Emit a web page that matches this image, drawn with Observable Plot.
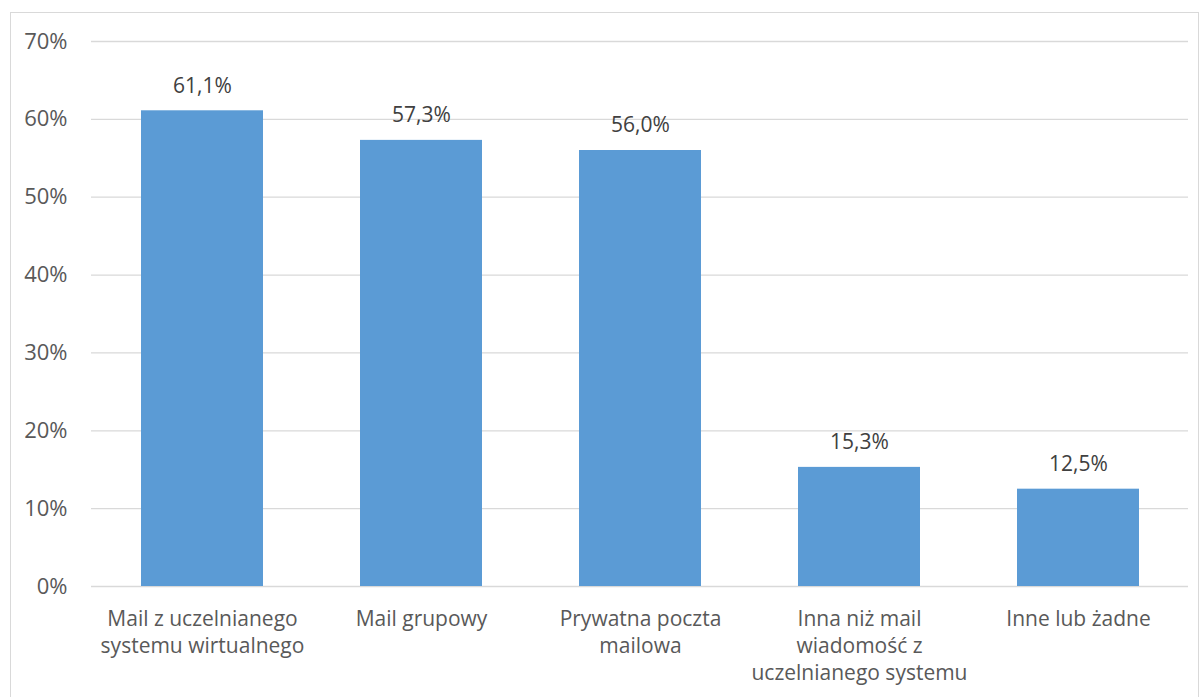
<!DOCTYPE html>
<html>
<head>
<meta charset="utf-8">
<script src="https://cdn.jsdelivr.net/npm/d3@7"></script>
<script src="https://cdn.jsdelivr.net/npm/@observablehq/plot@0.6"></script>
<style>
  body { margin: 0; background: #fff; }
  #wrap { position: relative; width: 1203px; height: 697px; }
  #border { position: absolute; left: 10px; top: 12px; width: 1189px; height: 700px; border: 1.5px solid #d9d9d9; box-sizing: border-box; }
  #chart { position: absolute; left: 0; top: 0; }
</style>
</head>
<body>
<div id="wrap"><div id="border"></div><div id="chart"></div></div>
<script>
// Communication channels and the share of respondents using each
const categories = [
  "Mail z uczelnianego systemu wirtualnego",
  "Mail grupowy",
  "Prywatna poczta mailowa",
  "Inna niż mail wiadomość z uczelnianego systemu",
  "Inne lub żadne"
];
const axisLabels = [
  "Mail z uczelnianego\nsystemu wirtualnego",
  "Mail grupowy",
  "Prywatna poczta\nmailowa",
  "Inna niż mail\nwiadomość z\nuczelnianego systemu",
  "Inne lub żadne"
];
const shares = [61.1, 57.3, 56.0, 15.3, 12.5];
const yTicks = [0, 10, 20, 30, 40, 50, 60, 70];

const data = categories.map((c, i) => ({category: c, value: shares[i]}));
const labelOf = new Map(categories.map((c, i) => [c, axisLabels[i]]));
const fmt = v => v.toFixed(1).replace(".", ",") + "%";

const chart = Plot.plot({
  width: 1203,
  height: 697,
  marginLeft: 91,
  marginRight: 15,
  marginTop: 41,
  marginBottom: 111,
  style: {fontFamily: "'Open Sans', sans-serif", fontSize: "21px", color: "#595959", background: "transparent"},
  x: {domain: categories, paddingInner: 0.444, paddingOuter: 0.222},
  y: {domain: [0, 70]},
  marks: [
    Plot.gridY(yTicks, {stroke: "#d9d9d9", strokeOpacity: 1, strokeWidth: 1.3}),
    Plot.axisY(yTicks, {tickSize: 0, tickPadding: 24, tickFormat: d => d + "%", fill: "#595959", fontSize: 22, label: null}),
    Plot.axisX({tickSize: 0, tickPadding: 21, tickFormat: d => labelOf.get(d), fill: "#595959", fontSize: 21, lineHeight: 1.27, label: null}),
    Plot.barY(data, {x: "category", y: "value", fill: "#5b9bd5"}),
    Plot.text(data, {x: "category", y: "value", text: d => fmt(d.value), dy: -25, fill: "#404040", fontSize: 21})
  ]
});
document.getElementById("chart").appendChild(chart);
</script>
</body>
</html>
